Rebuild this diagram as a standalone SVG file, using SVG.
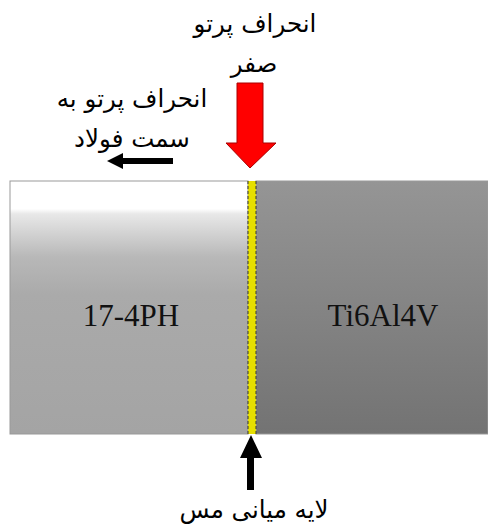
<svg xmlns="http://www.w3.org/2000/svg" width="488" height="526" viewBox="0 0 488 526">
<defs>
<linearGradient id="gL" x1="0" y1="0" x2="0" y2="1">
<stop offset="0" stop-color="#ffffff"/>
<stop offset="0.11" stop-color="#ffffff"/>
<stop offset="0.13" stop-color="#e8e8e8"/>
<stop offset="0.3" stop-color="#b8b8b8"/>
<stop offset="0.45" stop-color="#aaaaaa"/>
<stop offset="1" stop-color="#a4a4a4"/>
</linearGradient>
<linearGradient id="gR" x1="0" y1="0" x2="0" y2="1">
<stop offset="0" stop-color="#959595"/>
<stop offset="1" stop-color="#737373"/>
</linearGradient>
</defs>
<style>
.fa{font-family:"DejaVu Sans",sans-serif;font-size:24.5px;fill:#000;text-anchor:middle}
.mat{font-family:"Liberation Serif",serif;font-size:31px;fill:#111;text-anchor:middle}
</style>
<g id="steel">
<rect x="10" y="181" width="238" height="253" fill="url(#gL)" stroke="#999" stroke-width="1"/>
<text class="mat" x="131" y="326">17-4PH</text>
</g>
<g id="titanium">
<rect x="256" y="181" width="232" height="253" fill="url(#gR)" stroke="#999" stroke-width="1"/>
<text class="mat" x="383" y="326">Ti6Al4V</text>
</g>
<g id="copper-layer">
<rect x="248" y="181" width="8" height="253" fill="#e6df00"/>
<line x1="248" y1="181" x2="248" y2="434" stroke="#333" stroke-width="1" stroke-dasharray="3,2"/>
<line x1="256" y1="181" x2="256" y2="434" stroke="#333" stroke-width="1" stroke-dasharray="3,2"/>
</g>
<g id="labels">
<text class="fa" x="255" y="32">انحراف پرتو</text>
<text class="fa" x="254" y="72">صفر</text>
<text class="fa" x="132" y="107">انحراف پرتو به</text>
<text class="fa" x="132" y="147">سمت فولاد</text>
<text class="fa" x="254" y="518">لایه میانی مس</text>
</g>
<g id="connectors">
<polygon points="237,83 263,83 263,143 276,143 250,168 226,143 237,143" fill="#ff0000" stroke="#a00" stroke-width="1"/>
<polygon points="173,158 123,158 123,153 107,161 123,169 123,164 173,164" fill="#000"/>
<polygon points="251,435 262,458 254,458 254,490 247,490 247,458 240,458" fill="#000"/>
</g>
</svg>
